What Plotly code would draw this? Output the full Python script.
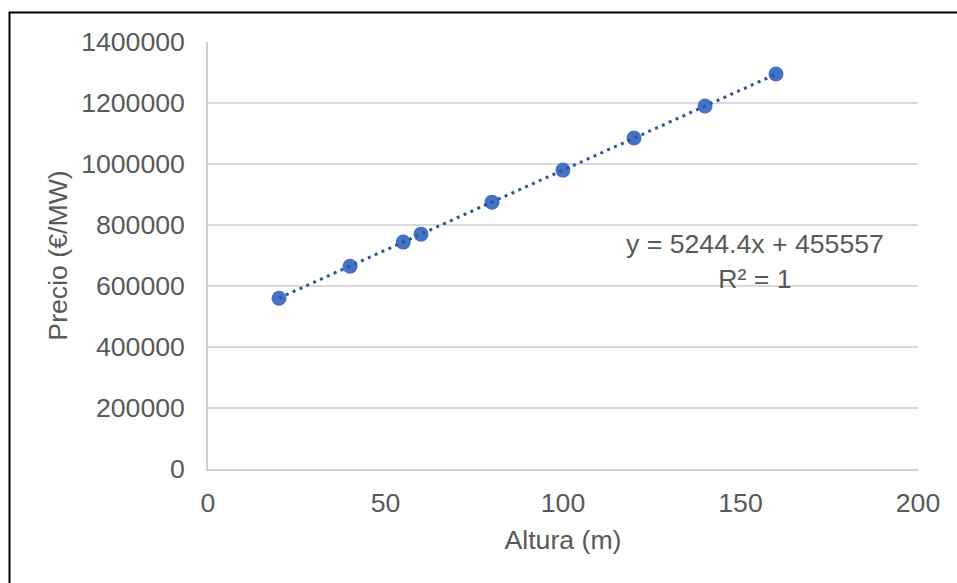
import numpy as np
import plotly.graph_objects as go

# Tower height (m) vs. price (€/MW)
altura = [20, 40, 55, 60, 80, 100, 120, 140, 160]
precio = [560000, 665000, 744000, 770000, 875000, 980000, 1085000, 1190000, 1295000]

# Linear trendline coefficients, as printed on the chart
pendiente = 5244.4
ordenada = 455557
r2_texto = "1"

y_ticks = [0, 200000, 400000, 600000, 800000, 1000000, 1200000, 1400000]
x_ticks = [0, 50, 100, 150, 200]

FONT = "Liberation Sans, Arial, sans-serif"
GREY = "#595959"
FS = 26.67

W, H = 957, 583
L, R, T, B = 208, 39, 42, 114
pw, ph = W - L - R, H - T - B

x_tend = np.array([min(altura), max(altura)], dtype=float)
y_tend = pendiente * x_tend + ordenada

fig = go.Figure()
fig.add_trace(go.Scatter(
    x=altura, y=precio, mode="markers",
    marker=dict(size=15, color="#4472C4", line=dict(width=0)),
    showlegend=False, hoverinfo="x+y",
))
fig.add_trace(go.Scatter(
    x=x_tend, y=y_tend, mode="lines",
    line=dict(color="#2F5597", width=3, dash="3px,4.5px"),
    showlegend=False, hoverinfo="skip",
))

# Trendline equation label
fig.add_annotation(
    x=(755 - L) / pw, y=(H - B - 261) / ph,
    xref="paper", yref="paper", xanchor="center", yanchor="middle",
    text=f"y = {pendiente}x + {ordenada}<br>R² = {r2_texto}",
    showarrow=False, align="center",
    font=dict(family=FONT, size=FS, color=GREY),
)

# Outer chart frame (only top and left edges fall inside the canvas)
fig.add_shape(
    type="rect", xref="paper", yref="paper",
    x0=(9.5 - L) / pw, x1=(W + 20 - L) / pw,
    y0=-(B + 20) / ph, y1=(H - B - 12.5) / ph,
    line=dict(color="black", width=2), fillcolor="rgba(0,0,0,0)",
    layer="above",
)

fig.update_layout(
    width=W, height=H,
    margin=dict(l=L, r=R, t=T, b=B, pad=0),
    paper_bgcolor="white", plot_bgcolor="white",
    font=dict(family=FONT, size=FS, color=GREY),
    xaxis=dict(
        range=[0, 200], tickvals=x_ticks, ticktext=[str(v) for v in x_ticks],
        showgrid=False, zeroline=False,
        showline=True, linecolor="#D0D0D0", linewidth=1.5,
        ticks="", ticklabelstandoff=9,
        title=dict(text="Altura (m)", standoff=14,
                   font=dict(family=FONT, size=FS, color=GREY)),
        tickfont=dict(family=FONT, size=FS, color=GREY),
    ),
    yaxis=dict(
        range=[0, 1400000], tickvals=y_ticks, ticktext=[str(v) for v in y_ticks],
        showgrid=True, gridcolor="#D9D9D9", gridwidth=1.5,
        zeroline=False,
        showline=True, linecolor="#D0D0D0", linewidth=1.5,
        ticks="", ticklabelstandoff=16,
        title=dict(text="Precio (€/MW)", standoff=6,
                   font=dict(family=FONT, size=FS, color=GREY)),
        tickfont=dict(family=FONT, size=FS, color=GREY),
    ),
)

fig.write_html("out.html")
